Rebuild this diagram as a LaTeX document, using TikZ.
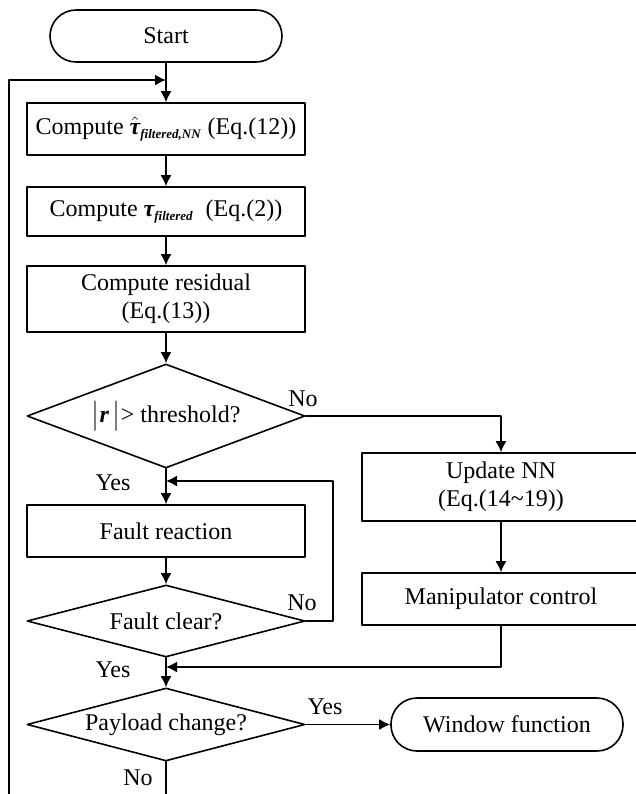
\documentclass[tikz,border=0pt]{standalone}
\usepackage{amsmath}
\usepackage{fontspec}
\setmainfont{Liberation Serif}
\usetikzlibrary{shapes.geometric}
\usetikzlibrary{arrows.meta}

\begin{document}
\begin{tikzpicture}[x = 0.5pt, y = -0.5pt, line cap = round, line join = round,
  line width = 0.8pt, font = \fontsize{12}{14}\selectfont,
  >= {Latex[length = 5.5pt, width = 5.5pt]},
  box/.style = {draw, rectangle, minimum width = 139pt, align = center,
    inner sep = 2pt},
  test/.style = {draw, diamond, minimum width = 139pt, inner sep = 0pt,
    aspect = 3.8},
  term/.style = {draw, rectangle, rounded corners = 13pt,
    minimum width = 116pt, minimum height = 26pt}]
  \useasboundingbox (0, 0) rectangle (636, 794);
  \clip (0, 0) rectangle (636, 794);

  \node[term] (start) at (166, 36) {Start};
  \node[box, minimum height = 26pt] (filterNN) at (166, 129)
  {Compute $\hat{\text{\bfseries\itshape τ}}_{\text{\fontsize{6.5}{7}\selectfont\bfseries\itshape filtered,NN}}$ (Eq.(12))};
  \node[box, minimum height = 24.5pt] (filter) at (166, 211.5)
  {Compute $\text{\bfseries\itshape τ}_{\text{\fontsize{6.5}{7}\selectfont\bfseries\itshape filtered}}$\ \ (Eq.(2))};
  \node[box, minimum height = 33pt] (resid) at (166, 299)
  {Compute residual\\(Eq.(13))};
  \node[test, minimum height = 52pt, aspect = 2.67] (thresh) at (166, 416)
  {$\bigl|\text{\bfseries\itshape r}\,\bigr|$> threshold?};
  \node[box, minimum height = 26pt] (react) at (166, 531) {Fault reaction};
  \node[test, minimum height = 36pt] (clear) at (166, 621) {Fault clear?};
  \node[test, minimum height = 36.5pt] (payload) at (166, 724.5)
  {Payload change?};

  \node[box, minimum height = 34pt] (update) at (501, 487)
  {Update NN\\(Eq.(14\textasciitilde19))};
  \node[box, minimum height = 26pt] (manip) at (501, 599)
  {Manipulator control};
  \node[term, minimum height = 26.5pt] (window) at (507, 724.5)
  {Window function};

  \coordinate (loopin) at (166, 80);
  \coordinate (backin) at (166, 481);
  \coordinate (mergein) at (166, 667);

  \draw[->] (start) -- (filterNN);
  \draw[->] (filterNN) -- (filter);
  \draw[->] (filter) -- (resid);
  \draw[->] (resid) -- (thresh);
  \draw[->] (thresh.south) -- (react);
  \draw[->] (thresh.east) -| (update.north);
  \draw[->] (update) -- (manip);
  \draw[->] (react) -- (clear);
  \draw[->] (clear.east) -- ++(27, 0) |- (backin);
  \draw[->] (clear.south) -- (payload.north);
  \draw[->] (manip.south) |- (mergein);
  \draw[->] (payload.east) -- (window.west);
  \draw[->] (payload.south) -- (166, 830) -| (9, 80) -- (loopin);

  \node (noA) at (303, 399) {No};
  \node (yesA) at (113, 483) {Yes};
  \node (noB) at (302, 603) {No};
  \node (yesB) at (113, 670) {Yes};
  \node (yesC) at (325, 707) {Yes};
  \node (noC) at (138, 778) {No};
\end{tikzpicture}
\end{document}
